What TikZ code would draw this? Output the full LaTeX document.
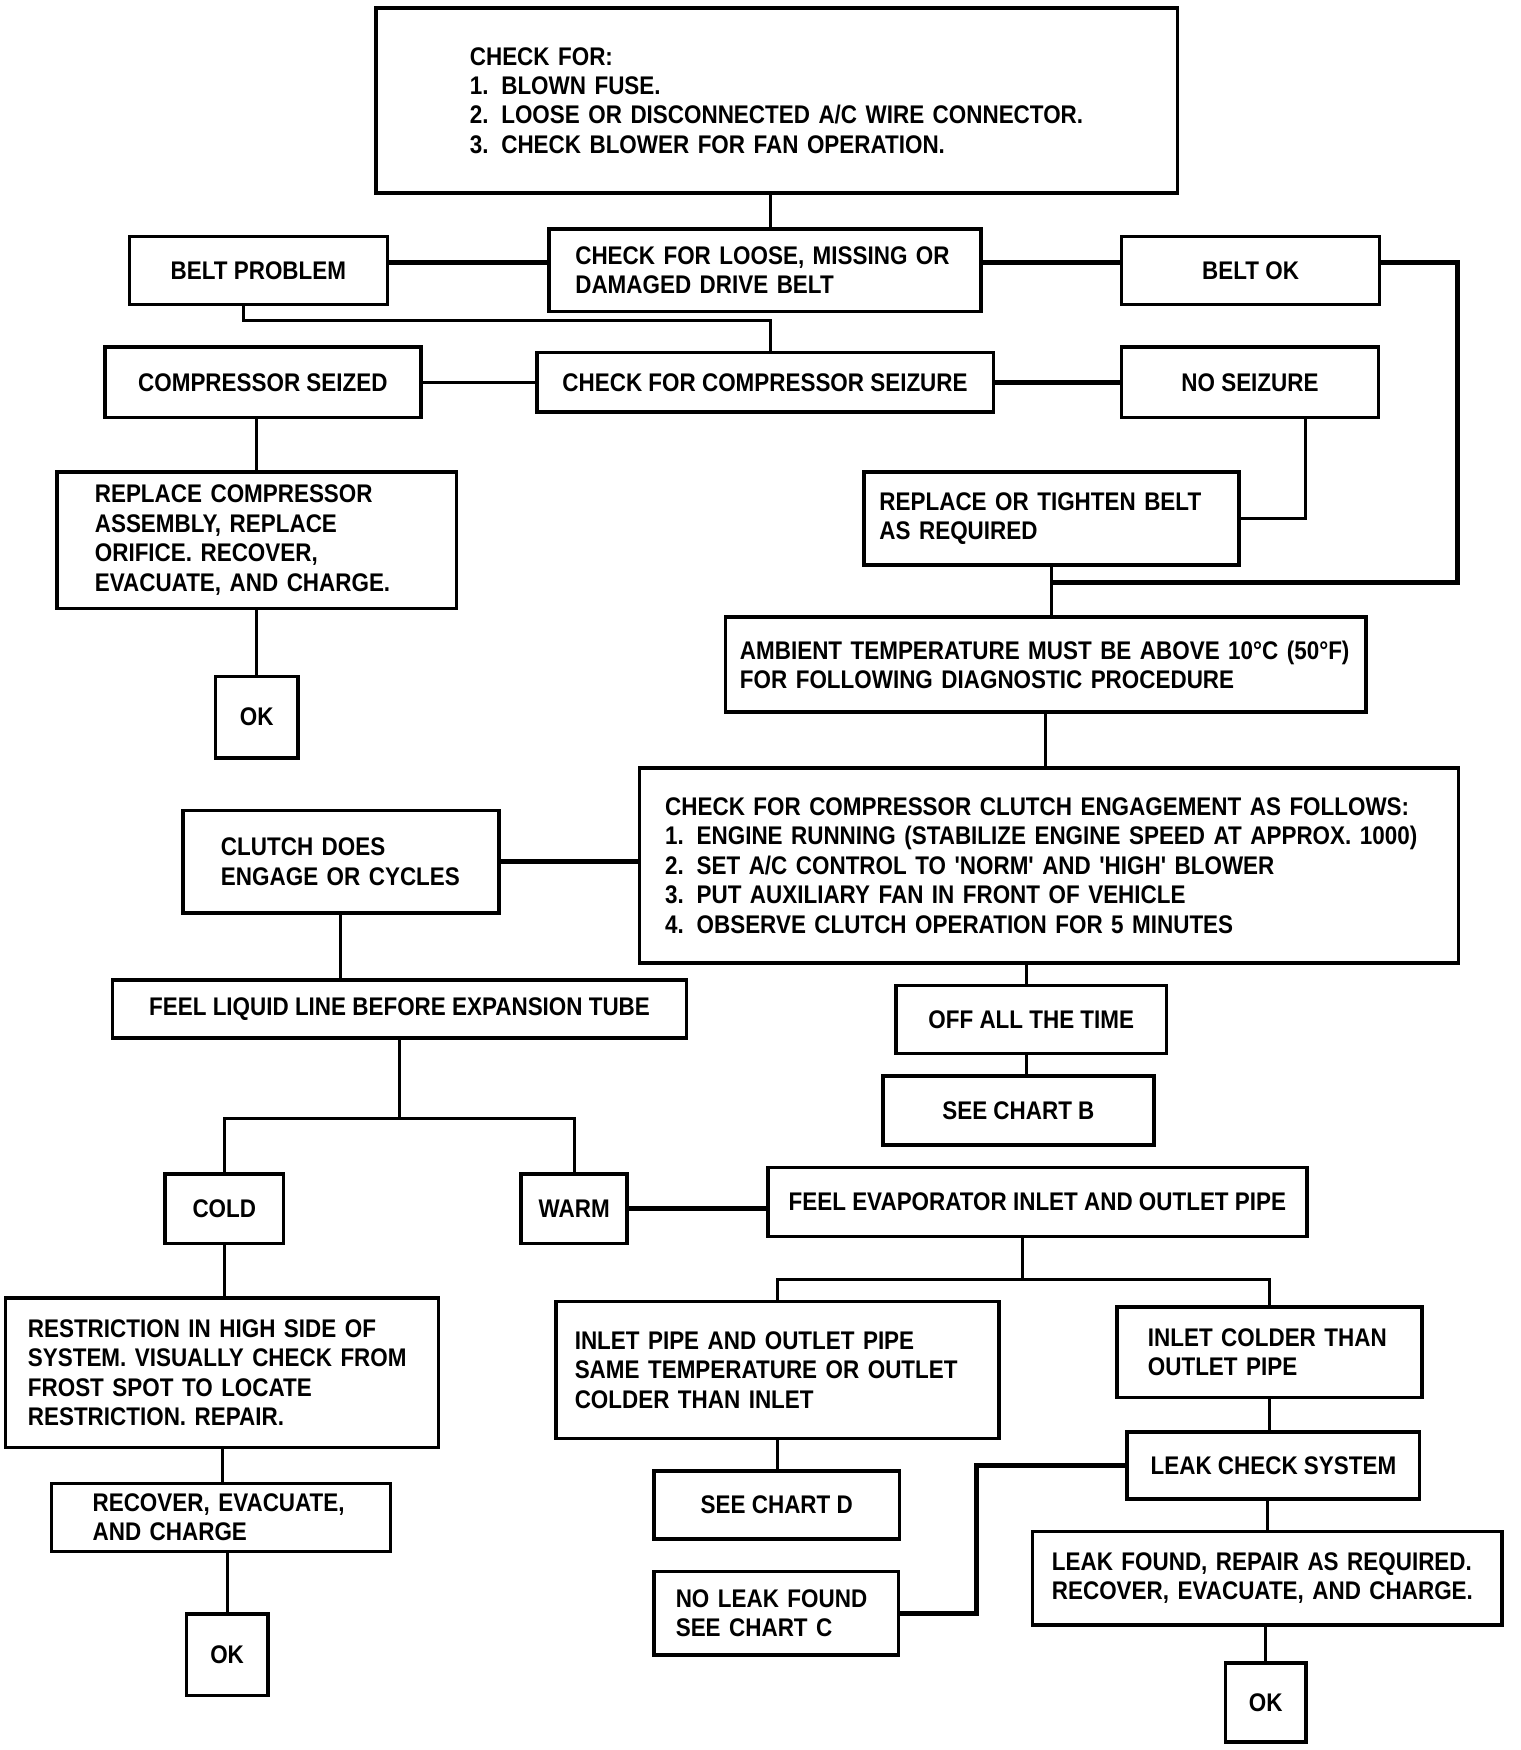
\documentclass[tikz,border=0pt]{standalone}
\usepackage{fontspec}
\newfontfamily\flowfont{Liberation Sans}[FakeStretch=0.88]
\hyphenpenalty=10000
\exhyphenpenalty=10000
\begin{document}
\begin{tikzpicture}[x=0.1mm,y=-0.1mm,
  box/.style={draw, line width=0.9pt, inner sep=0pt, font=\flowfont\bfseries\fontsize{6.5pt}{7.5pt}\selectfont},
  ltext/.style={align=left, text width=#1},
  conn/.style={line width=0.75pt},
  tconn/.style={line width=1.3pt}]
\useasboundingbox (0,0) rectangle (1362,1568);

% boxes
\node[box, minimum width=71.8mm, minimum height=16.6mm, ltext=55mm] (top) at (696,90)
  {CHECK FOR:\\1. BLOWN FUSE.\\2. LOOSE OR DISCONNECTED A/C WIRE CONNECTOR.\\3. CHECK BLOWER FOR FAN OPERATION.};
\node[box, minimum width=38.7mm, minimum height=7.4mm, ltext=34mm] (drive) at (685.5,242)
  {CHECK FOR LOOSE, MISSING OR\\DAMAGED DRIVE BELT};
\node[box, minimum width=23.1mm, minimum height=6.1mm] (beltprob) at (231.5,242.5) {BELT PROBLEM};
\node[box, minimum width=23.1mm, minimum height=6.1mm] (beltok) at (1120.5,242.5) {BELT OK};
\node[box, minimum width=40.9mm, minimum height=5.3mm] (compcheck) at (685.5,342.5) {CHECK FOR COMPRESSOR SEIZURE};
\node[box, minimum width=28.3mm, minimum height=6.3mm] (compseized) at (235.5,342.5) {COMPRESSOR SEIZED};
\node[box, minimum width=23mm, minimum height=6.3mm] (noseizure) at (1120,342.5) {NO SEIZURE};
\node[box, minimum width=33.6mm, minimum height=8.3mm, ltext=30.8mm] (replbelt) at (942,464.5)
  {REPLACE OR TIGHTEN BELT\\AS REQUIRED};
\node[box, minimum width=35.8mm, minimum height=12.2mm, ltext=29mm] (replcomp) at (230,484)
  {REPLACE COMPRESSOR\\ASSEMBLY, REPLACE\\ORIFICE. RECOVER,\\EVACUATE, AND CHARGE.};
\node[box, minimum width=7.4mm, minimum height=7.3mm] (okA) at (230,642.5) {OK};
\node[box, minimum width=57.4mm, minimum height=8.5mm, ltext=54.8mm] (ambient) at (937,595.5)
  {AMBIENT TEMPERATURE MUST BE ABOVE 10°C (50°F)\\FOR FOLLOWING DIAGNOSTIC PROCEDURE};
\node[box, minimum width=73.4mm, minimum height=17.5mm, ltext=68.8mm] (clutchchk) at (940,775.5)
  {CHECK FOR COMPRESSOR CLUTCH ENGAGEMENT AS FOLLOWS:\\1. ENGINE RUNNING (STABILIZE ENGINE SPEED AT APPROX. 1000)\\2. SET A/C CONTROL TO 'NORM' AND 'HIGH' BLOWER\\3. PUT AUXILIARY FAN IN FRONT OF VEHICLE\\4. OBSERVE CLUTCH OPERATION FOR 5 MINUTES};
\node[box, minimum width=28.3mm, minimum height=9.2mm, ltext=21.5mm] (clutchdoes) at (305.5,772)
  {CLUTCH DOES\\ENGAGE OR CYCLES};
\node[box, minimum width=51.4mm, minimum height=5.2mm] (feelliquid) at (358,904) {FEEL LIQUID LINE BEFORE EXPANSION TUBE};
\node[box, minimum width=10.6mm, minimum height=6.2mm] (cold) at (201,1083) {COLD};
\node[box, minimum width=9.5mm, minimum height=6.2mm] (warm) at (514.5,1083) {WARM};
\node[box, minimum width=24.2mm, minimum height=6.1mm] (offall) at (924,913.5) {OFF ALL THE TIME};
\node[box, minimum width=24.3mm, minimum height=6.2mm] (chartB) at (912.5,995) {SEE CHART B};
\node[box, minimum width=48.3mm, minimum height=6.2mm] (feelevap) at (929.5,1077) {FEEL EVAPORATOR INLET AND OUTLET PIPE};
\node[box, minimum width=39.7mm, minimum height=12.3mm, ltext=36.3mm] (inletsame) at (696.5,1227.5)
  {INLET PIPE AND OUTLET PIPE\\SAME TEMPERATURE OR OUTLET\\COLDER THAN INLET};
\node[box, minimum width=27.3mm, minimum height=8.1mm, ltext=21.8mm] (inletcolder) at (1137.5,1211.5)
  {INLET COLDER THAN\\OUTLET PIPE};
\node[box, minimum width=26.2mm, minimum height=6mm] (leakcheck) at (1141,1313) {LEAK CHECK SYSTEM};
\node[box, minimum width=22mm, minimum height=6.1mm] (chartD) at (696,1348.5) {SEE CHART D};
\node[box, minimum width=21.9mm, minimum height=7.5mm, ltext=18mm] (noleak) at (695.5,1445.5)
  {NO LEAK FOUND\\SEE CHART C};
\node[box, minimum width=42.1mm, minimum height=8.4mm, ltext=38.6mm] (leakfound) at (1135.5,1414)
  {LEAK FOUND, REPAIR AS REQUIRED.\\RECOVER, EVACUATE, AND CHARGE.};
\node[box, minimum width=7.2mm, minimum height=7.1mm] (okC) at (1134,1525.5) {OK};
\node[box, minimum width=38.8mm, minimum height=13.4mm, ltext=34.8mm] (restriction) at (199,1230)
  {RESTRICTION IN HIGH SIDE OF\\SYSTEM. VISUALLY CHECK FROM\\FROST SPOT TO LOCATE\\RESTRICTION. REPAIR.};
\node[box, minimum width=30.4mm, minimum height=6.1mm, ltext=23mm] (recover) at (198,1359.5)
  {RECOVER, EVACUATE,\\AND CHARGE};
\node[box, minimum width=7.3mm, minimum height=7.3mm] (okB) at (203.5,1482.5) {OK};

% junction points
\coordinate (jR) at (1306,522);
\coordinate (jM) at (replbelt.south |- jR);
\coordinate (jB) at (690,287);
\coordinate (jL) at ([yshift=-7.1mm]feelliquid.south);
\coordinate (jE) at ([xshift=-1.35mm,yshift=-3.7mm]feelevap.south);
\coordinate (jN) at (875,1313);

% connectors
\draw[conn] ([xshift=-0.6mm]top.south) -- ([xshift=-0.6mm]top.south |- drive.north);
\draw[tconn] ([yshift=0.7mm]drive.west) -- ([yshift=0.7mm]drive.west -| beltprob.east);
\draw[tconn] ([yshift=0.7mm]drive.east) -- ([yshift=0.7mm]drive.east -| beltok.west);
\draw[tconn] ([yshift=0.7mm]beltok.east) -| (jR) -- (jM);
\draw[conn] (replbelt.south) -- (replbelt.south |- ambient.north);
\draw[conn] ([xshift=-1.3mm]beltprob.south) |- (jB) -- (jB |- compcheck.north);
\draw[conn] (compseized.east) -- (compcheck.west);
\draw[tconn] (compcheck.east) -- (noseizure.west);
\draw[conn] ([xshift=5mm]noseizure.south) |- (replbelt.east);
\draw[conn] (replcomp.north |- compseized.south) -- (replcomp.north);
\draw[conn] (replcomp.south) -- (okA.north);
\draw[conn] (ambient.south) -- (ambient.south |- clutchchk.north);
\draw[tconn] (clutchdoes.east) -- (clutchdoes.east -| clutchchk.west);
\draw[conn] (clutchdoes.south) -- (clutchdoes.south |- feelliquid.north);
\draw[conn] (feelliquid.south) -- (jL);
\draw[conn] (cold.north) |- (jL) -| (warm.north);
\draw[tconn] (warm.east) -- (warm.east -| feelevap.west);
\draw[conn] ([xshift=-0.4mm]offall.north |- clutchchk.south) -- ([xshift=-0.4mm]offall.north);
\draw[conn] ([xshift=-0.4mm]offall.south) -- ([xshift=-0.4mm]offall.south |- chartB.north);
\draw[conn] (jE |- feelevap.south) -- (jE);
\draw[conn] (inletsame.north) |- (jE) -| (inletcolder.north);
\draw[conn] (inletsame.south) -- (inletsame.south |- chartD.north);
\draw[conn] (inletcolder.south) -- (inletcolder.south |- leakcheck.north);
\draw[tconn] (leakcheck.west) -- (jN) |- (noleak.east);
\draw[conn] (leakfound.north |- leakcheck.south) -- (leakfound.north);
\draw[conn] (okC.north |- leakfound.south) -- (okC.north);
\draw[conn] (cold.south) -- (cold.south |- restriction.north);
\draw[conn] (restriction.south) -- (restriction.south |- recover.north);
\draw[conn] (okB.north |- recover.south) -- (okB.north);
\end{tikzpicture}
\end{document}
